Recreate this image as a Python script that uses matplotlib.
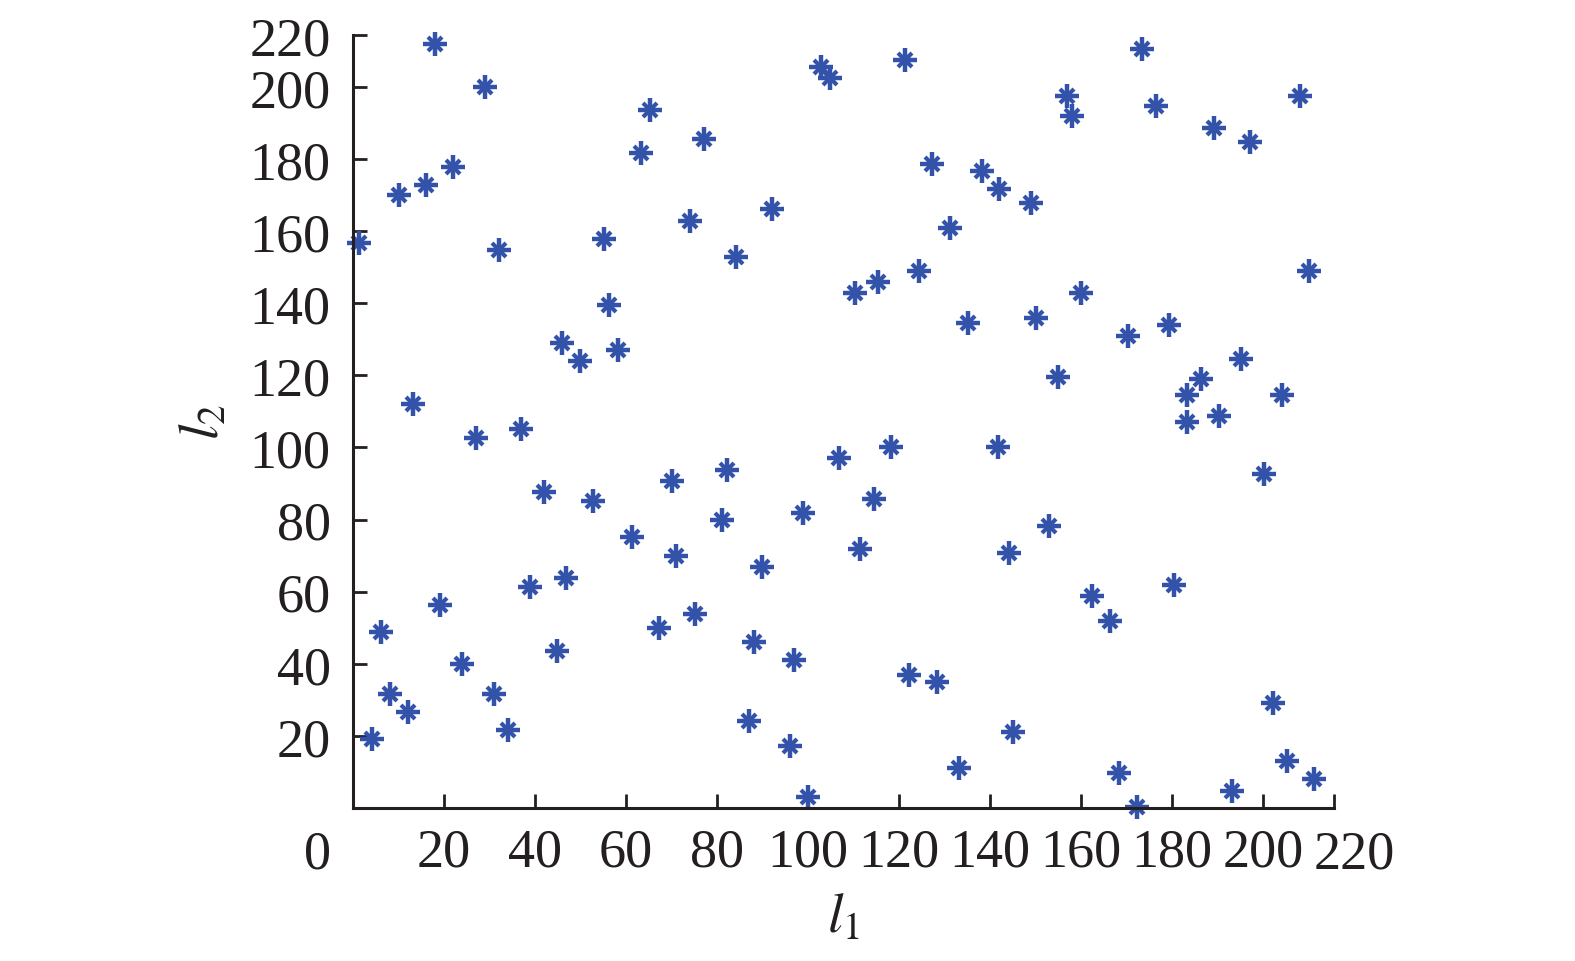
import matplotlib
matplotlib.use("Agg")
import matplotlib.pyplot as plt

# point coordinates
l1 = [18.1, 29.0, 65.3, 63.2, 10.1, 16.0, 22.0, 1.3, 32.0, 55.2, 56.2, 45.9, 49.9, 58.3, 13.2,
      36.9, 27.0, 41.9, 52.8, 70.1, 61.3, 71.1, 38.9, 46.8, 19.1, 6.2, 67.3, 44.8, 24.0, 8.1,
      31.0, 12.1, 34.0, 4.2,
      102.9, 104.9, 121.3, 77.1, 127.3, 138.2, 142.0, 74.1, 92.0, 131.2, 84.1, 110.3, 115.3,
      124.3, 135.2,
      82.1, 106.9, 118.3, 141.8, 81.1, 98.9, 114.4, 90.0, 111.4, 144.1, 75.2, 88.1, 97.0, 122.3,
      128.3, 87.0, 96.0, 133.2, 100.0, 145.1,
      173.4, 157.0, 158.0, 176.4, 208.1, 189.2, 197.2, 149.1, 210.1, 160.0, 150.1, 170.4, 179.3,
      155.0, 195.2, 186.3, 183.3, 204.2, 183.3, 190.3,
      200.2, 153.0, 162.5, 166.4, 180.4, 202.2, 168.4, 205.2, 211.1, 193.2, 172.3]
l2 = [211.9, 199.9, 193.6, 181.7, 169.9, 172.9, 177.9, 156.6, 154.8, 157.8, 139.6, 129.0, 124.0,
      127.0, 112.1,
      105.1, 102.6, 87.6, 85.1, 90.7, 75.1, 70.0, 61.2, 63.8, 56.2, 48.7, 49.9, 43.6, 39.9, 31.7,
      31.7, 26.7, 21.6, 19.1,
      205.6, 202.4, 207.5, 185.5, 178.6, 176.7, 171.6, 162.8, 166.0, 161.0, 152.8, 142.9, 145.9,
      149.0, 134.6,
      93.8, 97.0, 100.2, 100.2, 80.0, 81.9, 85.7, 66.9, 71.8, 70.6, 53.7, 46.1, 41.1, 36.8,
      34.9, 24.2, 17.3, 11.1, 3.0, 21.2,
      210.5, 197.4, 191.8, 194.8, 197.4, 188.6, 184.7, 167.9, 149.0, 142.9, 135.8, 130.8, 134.0,
      119.6, 124.5, 119.0, 114.6, 114.6, 107.0, 108.8,
      92.6, 78.2, 58.7, 51.9, 61.9, 29.2, 9.8, 13.0, 8.0, 4.8, 0.2]

ticks = [20, 40, 60, 80, 100, 120, 140, 160, 180, 200]
x_max = 215.6
y_max = 214.4

plt.rcParams['font.family'] = ['Liberation Serif', 'DejaVu Serif']
plt.rcParams['mathtext.fontset'] = 'stix'

fig = plt.figure(figsize=(15.75, 9.62), dpi=100)
ax = fig.add_axes([0.2241, 0.159, 0.8470 - 0.2241, 0.9626 - 0.159])

col = '#3352a9'
# asterisk marker = plus + small cross
ax.plot(l1, l2, ls='none', marker='+', ms=17, mew=3.2, color=col, clip_on=False)
ax.plot(l1, l2, ls='none', marker='x', ms=9.5, mew=3.0, color=col, clip_on=False)

ax.set_xlim(0, x_max)
ax.set_ylim(0, y_max)

ax.set_xticks(ticks)
ax.set_xticklabels([str(t) for t in ticks])
ax.set_yticks(ticks + [y_max])
ax.set_yticklabels([str(t) for t in ticks] + ['220'])
ax.set_xticks([x_max], minor=True)

for s in ['top', 'right']:
    ax.spines[s].set_visible(False)
for s in ['left', 'bottom']:
    ax.spines[s].set_linewidth(2.2)
    ax.spines[s].set_color('#231f20')

ax.tick_params(which='both', direction='in', length=10, width=2.0, color='#231f20',
               labelsize=39, labelcolor='#231f20')
ax.tick_params(axis='x', pad=14)
ax.tick_params(axis='y', pad=16)

# extra labels at the corner and end of x axis
ax.text(220, -0.027, '220', transform=ax.get_xaxis_transform(), ha='center', va='top',
        fontsize=39, color='#231f20')
ax.text(-7.9, -0.027, '0', transform=ax.get_xaxis_transform(), ha='center', va='top',
        fontsize=39, color='#231f20')

ax.set_xlabel('$l_1$', fontsize=40, color='#231f20', labelpad=10)
ax.set_ylabel('$l_2$', fontsize=40, color='#231f20', labelpad=14)

fig.savefig('out.png', dpi=100)
